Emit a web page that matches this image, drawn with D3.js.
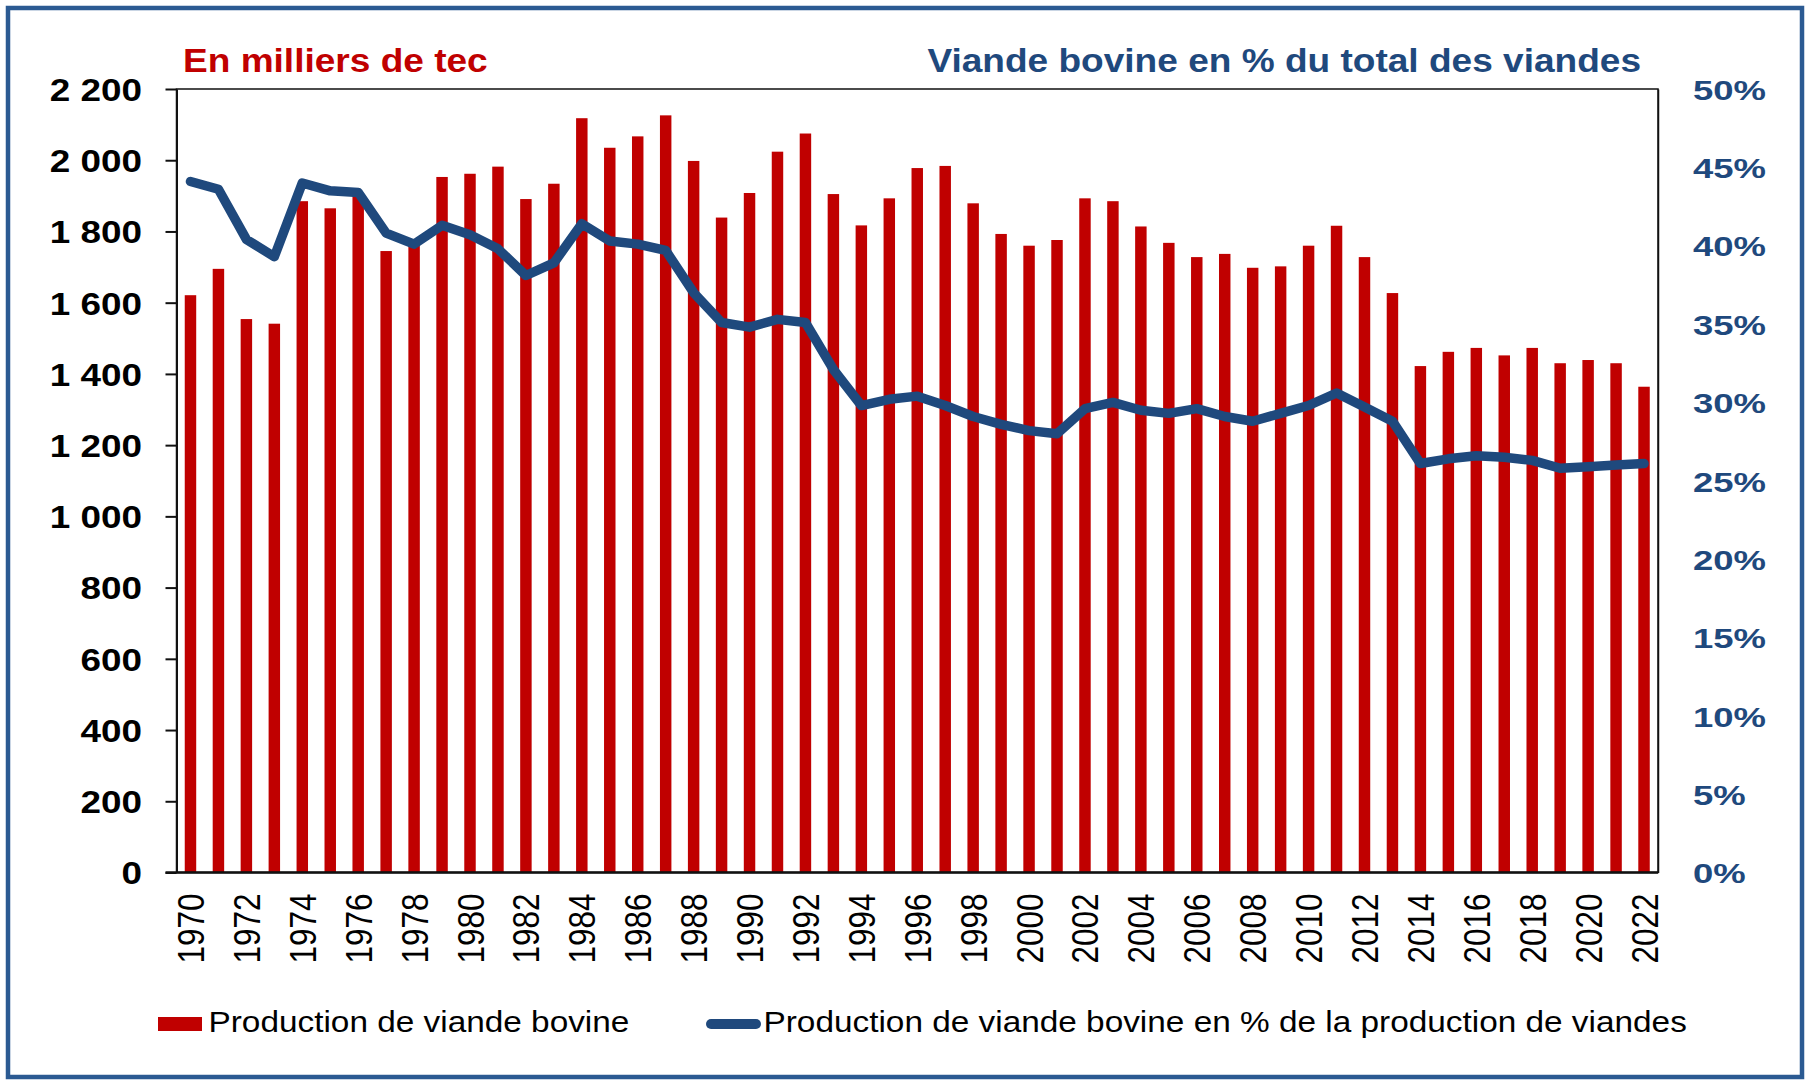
<!DOCTYPE html>
<html lang="fr">
<head>
<meta charset="utf-8">
<title>Production de viande bovine</title>
<script src="https://cdn.jsdelivr.net/npm/d3@7"></script>
<style>
  html, body { margin: 0; padding: 0; background: #ffffff; }
  svg { display: block; font-family: "Liberation Sans", Arial, sans-serif; }
</style>
</head>
<body>
<svg id="chart" width="1807" height="1081"></svg>
<script>
// Années
const years = d3.range(1970, 2023);

// Production de viande bovine (milliers de tec)
const production = [
  1621, 1695, 1554, 1541, 1885, 1865, 1905, 1745, 1762, 1953,
  1962, 1982, 1891, 1934, 2118, 2035, 2067, 2126, 1998, 1839,
  1908, 2024, 2075, 1905, 1817, 1893, 1978, 1984, 1879, 1793,
  1760, 1776, 1893, 1885, 1814, 1768, 1728, 1737, 1698, 1702,
  1760, 1816, 1728, 1627, 1422, 1462, 1473, 1452, 1473, 1430,
  1439, 1430, 1364
];

// Part de la viande bovine dans la production totale de viandes (%)
const shareBovine = [
  44.1, 43.6, 40.4, 39.3, 44.0, 43.5, 43.4, 40.8, 40.1, 41.3,
  40.7, 39.8, 38.1, 38.9, 41.4, 40.3, 40.1, 39.7, 37.0, 35.1,
  34.8, 35.3, 35.1, 32.1, 29.8, 30.2, 30.4, 29.8, 29.1, 28.6,
  28.2, 28.0, 29.6, 30.0, 29.5, 29.3, 29.6, 29.1, 28.8, 29.3,
  29.8, 30.6, 29.7, 28.8, 26.1, 26.4, 26.6, 26.5, 26.3, 25.8,
  25.9, 26.0, 26.1
];

// Graduations
const leftTicks = d3.range(0, 2201, 200);
const rightTicks = d3.range(0, 0.501, 0.05);
const yearTicks = years.filter(y => y % 2 === 0);

// Textes
const titleLeft = "En milliers de tec";
const titleRight = "Viande bovine en % du total des viandes";
const legendBars = "Production de viande bovine";
const legendLine = "Production de viande bovine en % de la production de viandes";

const RED = "#C00000";
const BLUE = "#1F497D";

const svg = d3.select("#chart");
const plot = { left: 176.5, right: 1658, top: 89, bottom: 872.5 };

// Cadre extérieur
svg.append("rect")
  .attr("x", 8).attr("y", 8)
  .attr("width", 1794).attr("height", 1069)
  .attr("fill", "#ffffff")
  .attr("stroke", "#2B5A92")
  .attr("stroke-width", 4.5);

const x = d3.scaleBand()
  .domain(years)
  .range([plot.left, plot.right])
  .paddingInner(0.59)
  .paddingOuter(0.295);

const y = d3.scaleLinear().domain([0, 2200]).range([plot.bottom, plot.top]);
const y2 = d3.scaleLinear().domain([0, 0.5]).range([plot.bottom, plot.top]);

const fr = d3.formatLocale({ decimal: ",", thousands: "\u00a0", grouping: [3], currency: ["", " €"] });

// Barres
svg.append("g")
  .selectAll("rect")
  .data(years)
  .join("rect")
  .attr("x", (d) => x(d))
  .attr("width", x.bandwidth())
  .attr("y", (d, i) => y(production[i]))
  .attr("height", (d, i) => y(0) - y(production[i]))
  .attr("fill", RED);

// Cadre de la zone de tracé
svg.append("rect")
  .attr("x", plot.left).attr("y", plot.top)
  .attr("width", plot.right - plot.left)
  .attr("height", plot.bottom - plot.top)
  .attr("fill", "none")
  .attr("stroke", "#111")
  .attr("stroke-width", 1.5);

// Axe gauche
const axLeft = svg.append("g")
  .attr("transform", `translate(${plot.left},0)`)
  .call(d3.axisLeft(y).tickValues(leftTicks).tickSize(11).tickSizeOuter(0)
    .tickFormat(fr.format(",d")));
axLeft.select(".domain").attr("stroke", "#111").attr("stroke-width", 2);
axLeft.selectAll(".tick line").attr("stroke", "#111").attr("stroke-width", 2);
axLeft.selectAll(".tick text")
  .attr("x", null).attr("dy", "0.36em")
  .attr("transform", "translate(-34.5,0) scale(1.17,1)")
  .attr("text-anchor", "end")
  .attr("fill", "#000")
  .attr("font-size", 31.5)
  .attr("font-weight", "bold")
  .attr("font-family", "Liberation Sans, Arial, sans-serif");

// Axe droit
const axRight = svg.append("g")
  .attr("transform", `translate(${plot.right},0)`)
  .call(d3.axisRight(y2).tickValues(rightTicks).tickSize(0).tickSizeOuter(0)
    .tickFormat(d3.format(".0%")));
axRight.select(".domain").attr("stroke", "#111").attr("stroke-width", 1.5);
axRight.selectAll(".tick text")
  .attr("x", null).attr("dy", "0.36em")
  .attr("transform", "translate(35,0) scale(1.28,1)")
  .attr("text-anchor", "start")
  .attr("fill", BLUE)
  .attr("font-size", 28.5)
  .attr("font-weight", "bold")
  .attr("font-family", "Liberation Sans, Arial, sans-serif");

// Axe des années
const axBottom = svg.append("g")
  .attr("transform", `translate(0,${plot.bottom})`)
  .call(d3.axisBottom(x).tickValues(yearTicks).tickSize(0).tickSizeOuter(0));
axBottom.select(".domain")
  .attr("d", `M${plot.left - 11},0H${plot.right}`)
  .attr("stroke", "#111").attr("stroke-width", 2.5);
axBottom.selectAll(".tick text")
  .attr("x", null).attr("y", null).attr("dy", "0.36em")
  .attr("transform", "translate(0,21) scale(1.19,1) rotate(-90)")
  .attr("text-anchor", "end")
  .attr("fill", "#000")
  .attr("font-size", 31.5)
  .attr("font-family", "Liberation Sans, Arial, sans-serif");

// Courbe de la part bovine
const line = d3.line()
  .x((d, i) => x(years[i]) + x.bandwidth() / 2)
  .y((d) => y2(d / 100));

svg.append("path")
  .datum(shareBovine)
  .attr("d", line)
  .attr("fill", "none")
  .attr("stroke", BLUE)
  .attr("stroke-width", 9.5)
  .attr("stroke-linejoin", "round")
  .attr("stroke-linecap", "round");

// Texte étiré horizontalement
function stretchedText(g, txt, xPos, yPos, size, sx, opts) {
  return g.append("text")
    .attr("transform", `translate(${xPos},${yPos}) scale(${sx},1)`)
    .attr("font-size", size)
    .attr("font-weight", opts.weight || "normal")
    .attr("fill", opts.fill || "#000")
    .attr("text-anchor", opts.anchor || "start")
    .text(txt);
}

// Titres
stretchedText(svg, titleLeft, 183, 71.5, 34, 1.09, { weight: "bold", fill: RED });
stretchedText(svg, titleRight, 1641, 71.5, 34, 1.09, { weight: "bold", fill: BLUE, anchor: "end" });

// Légende
const legend = svg.append("g");
legend.append("rect")
  .attr("x", 158).attr("y", 1017)
  .attr("width", 44).attr("height", 14)
  .attr("fill", RED);
stretchedText(legend, legendBars, 208.5, 1032, 29, 1.15, {});
legend.append("line")
  .attr("x1", 711).attr("x2", 756)
  .attr("y1", 1024).attr("y2", 1024)
  .attr("stroke", BLUE)
  .attr("stroke-width", 10)
  .attr("stroke-linecap", "round");
stretchedText(legend, legendLine, 763.5, 1032, 29, 1.15, {});
</script>
</body>
</html>
